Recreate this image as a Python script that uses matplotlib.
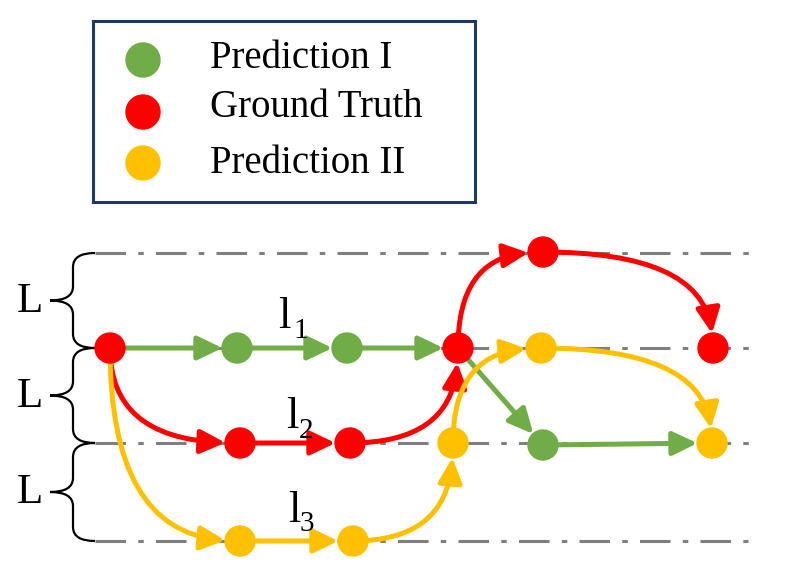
import matplotlib
matplotlib.use('Agg')
import matplotlib.pyplot as plt
from matplotlib.patches import Circle, FancyArrowPatch, Rectangle, PathPatch
from matplotlib.path import Path

plt.rcParams['font.family'] = 'Liberation Serif'

VERDE = '#70AD47'
VERMELHO = '#FF0000'
AMARELO = '#FFC000'
CINZA = '#7F7F7F'

# posicoes em pixels da imagem (y cresce para baixo)
niveis_y = [253, 348, 443, 541]
niveis_x0 = [95, 95, 95, 95]
niveis_x1 = [760, 757, 750, 748]

nos_verde = [(237, 348), (347, 348), (543, 445)]
nos_vermelho = [(110, 348), (240, 443), (350, 443), (458, 348), (543, 252), (713, 348)]
nos_amarelo = [(240, 541), (353, 541), (453, 443), (541, 348), (712, 443)]

# arestas: (origem, destino, curva) curva=None reta, 'vh' sai vertical/chega horizontal, 'hv' o contrario
arestas_verde = [((110, 348), (237, 348), None), ((237, 348), (347, 348), None),
                 ((347, 348), (458, 348), None), ((458, 348), (543, 445), None),
                 ((543, 445), (712, 443), None)]
arestas_vermelho = [((110, 348), (240, 443), 'vh'), ((240, 443), (350, 443), None),
                    ((350, 443), (458, 348), 'hv'), ((458, 348), (543, 252), 'vh'),
                    ((543, 252), (713, 348), 'hv')]
arestas_amarelo = [((110, 348), (240, 541), 'vh'), ((240, 541), (353, 541), None),
                   ((353, 541), (453, 443), 'hv'), ((453, 443), (541, 348), 'vh'),
                   ((541, 348), (712, 443), 'hv')]

rotulos_l = [('l', '1', 278, 328, 293, 338), ('l', '2', 286, 428, 299, 438), ('l', '3', 288, 522, 300, 531)]
chaves = [(253, 348), (348, 443), (443, 541)]

legenda_txt = ['Prediction I', 'Ground Truth', 'Prediction II']
legenda_cor = [VERDE, VERMELHO, AMARELO]
legenda_y = [60, 112, 163]
legenda_base = [68, 117, 173]

R = 15

fig = plt.figure(figsize=(8.03, 5.73), dpi=100)
ax = fig.add_axes([0, 0, 1, 1])
ax.set_xlim(0, 803)
ax.set_ylim(573, 0)
ax.axis('off')

for y, x0, x1 in zip(niveis_y, niveis_x0, niveis_x1):
    ax.plot([x0, x1], [y, y], color=CINZA, lw=2.2, dashes=(10, 4, 1.8, 4), zorder=1)


def desenhar_arestas(arestas, cor):
    for a, b, curva in arestas:
        if curva is None:
            estilo = 'arc3,rad=0'
        elif curva == 'vh':
            estilo = 'angle3,angleA=90,angleB=0'
        else:
            estilo = 'angle3,angleA=0,angleB=90'
        seta = FancyArrowPatch(a, b, connectionstyle=estilo,
                               arrowstyle='-|>,head_length=0.75,head_width=0.36',
                               mutation_scale=20, color=cor, lw=3.6,
                               shrinkA=0, shrinkB=10.5, zorder=3)
        ax.add_patch(seta)


desenhar_arestas(arestas_verde, VERDE)
desenhar_arestas(arestas_vermelho, VERMELHO)
desenhar_arestas(arestas_amarelo, AMARELO)

for nos, cor in [(nos_verde, VERDE), (nos_vermelho, VERMELHO), (nos_amarelo, AMARELO)]:
    for x, y in nos:
        ax.add_patch(Circle((x, y), R, color=cor, zorder=5))

# chaves
for y0, y1 in chaves:
    ym = (y0 + y1) / 2
    xd, xm, xp, r = 95, 73, 50, 14
    verts = [(xd, y0), (xm, y0), (xm, y0 + r),
             (xm, ym - r),
             (xm, ym), (xp, ym),
             (xm, ym), (xm, ym + r),
             (xm, y1 - r),
             (xm, y1), (xd, y1)]
    codes = [Path.MOVETO, Path.CURVE3, Path.CURVE3,
             Path.LINETO,
             Path.CURVE3, Path.CURVE3,
             Path.CURVE3, Path.CURVE3,
             Path.LINETO,
             Path.CURVE3, Path.CURVE3]
    ax.add_patch(PathPatch(Path(verts, codes), fill=False, lw=1.6, edgecolor='black', zorder=2))
    ax.text(30, ym + 1, 'L', fontsize=31, ha='center', va='center')

for base, sub, x, y, xs, ys in rotulos_l:
    ax.text(x, y, base, fontsize=32, ha='left', va='baseline')
    ax.text(xs, ys, sub, fontsize=21, ha='left', va='baseline')

# legenda
ax.add_patch(Rectangle((93, 21), 382, 181, facecolor='white', edgecolor='#1F3864', lw=2.2, zorder=1))
for txt, cor, y, yb in zip(legenda_txt, legenda_cor, legenda_y, legenda_base):
    ax.add_patch(Circle((143, y), 17, color=cor, zorder=5))
    ax.text(210, yb, txt, fontsize=28, ha='left', va='baseline')

fig.savefig('out.png', dpi=100)
